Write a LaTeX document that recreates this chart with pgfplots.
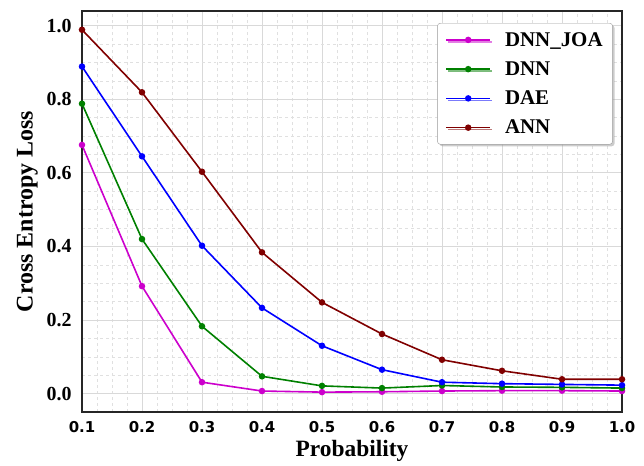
\documentclass[border=0pt]{standalone}
\usepackage{fontspec}
\setmainfont{Liberation Serif}
\newfontfamily\tickfont{DejaVu Sans}
\usepackage{pgfplots}
\pgfplotsset{compat=1.18}
\usetikzlibrary{shadows}
\definecolor{cjoa}{RGB}{204,0,204}
\definecolor{cdnn}{RGB}{0,128,0}
\definecolor{cdae}{RGB}{0,0,255}
\definecolor{cann}{RGB}{128,0,0}
\begin{document}
\begin{tikzpicture}
\begin{axis}[name=ax, at={(0,0)}, anchor=south west,
  width=540bp, height=401bp, scale only axis,
  xmin=0.1, xmax=1.0, ymin=-0.05, ymax=1.04,
  xtick={0.1,0.2,0.3,0.4,0.5,0.6,0.7,0.8,0.9,1.0},
  ytick={0,0.2,0.4,0.6,0.8,1.0},
  minor x tick num=3, minor y tick num=3,
  grid=both,
  major grid style={black!15, line width=0.9bp},
  minor grid style={black!12, dashed, line width=0.6bp},
  major tick length=0pt, minor tick length=0pt,
  axis line style={line width=1.4bp, black!85},
  /pgf/number format/assume math mode=true,
  xticklabel style={font=\tickfont\bfseries\fontsize{15}{17}\selectfont,
    /pgf/number format/.cd, fixed, fixed zerofill, precision=1},
  yticklabel style={font=\bfseries\fontsize{20}{22}\selectfont,
    /pgf/number format/.cd, fixed, fixed zerofill, precision=1},
  xticklabel shift=6bp, yticklabel shift=7bp,
  xlabel={\bfseries\fontsize{23.5}{25}\selectfont Probability},
  ylabel={\bfseries\fontsize{24}{26}\selectfont Cross Entropy Loss},
  xlabel style={yshift=-1bp},
  ylabel style={yshift=2bp},
  every axis plot/.append style={line width=1.6bp, mark=*, mark size=2.4bp},
  legend style={at={(0.983,0.97)}, anchor=north east, rounded corners=3bp,
    draw=black!40, fill=white, drop shadow={shadow xshift=2bp, shadow yshift=-2bp, fill=black!40},
    font=\bfseries\fontsize{21}{24}\selectfont, row sep=10bp, inner xsep=8bp, inner ysep=7bp,
    cells={anchor=west}, /tikz/every odd column/.style={column sep=12bp}},
  legend image code/.code={\draw[#1, mark=none] (0bp,0bp) -- (44bp,0bp);
    \draw[#1, only marks] plot coordinates {(22bp,0bp)};},
]
\addplot[color=cjoa] coordinates {(0.1,0.676) (0.2,0.292) (0.3,0.031) (0.4,0.007) (0.5,0.004) (0.6,0.005) (0.7,0.007) (0.8,0.008) (0.9,0.008) (1.0,0.007)};
\addlegendentry{DNN\_JOA}
\addplot[color=cdnn] coordinates {(0.1,0.788) (0.2,0.420) (0.3,0.183) (0.4,0.047) (0.5,0.021) (0.6,0.015) (0.7,0.022) (0.8,0.018) (0.9,0.017) (1.0,0.015)};
\addlegendentry{DNN}
\addplot[color=cdae] coordinates {(0.1,0.889) (0.2,0.645) (0.3,0.402) (0.4,0.233) (0.5,0.130) (0.6,0.065) (0.7,0.031) (0.8,0.027) (0.9,0.025) (1.0,0.023)};
\addlegendentry{DAE}
\addplot[color=cann] coordinates {(0.1,0.989) (0.2,0.819) (0.3,0.603) (0.4,0.384) (0.5,0.248) (0.6,0.162) (0.7,0.092) (0.8,0.062) (0.9,0.039) (1.0,0.039)};
\addlegendentry{ANN}
\end{axis}
\path ([xshift=-82bp,yshift=-52bp]ax.south west) rectangle ([xshift=22bp,yshift=11bp]ax.north east);
\end{tikzpicture}
\end{document}
